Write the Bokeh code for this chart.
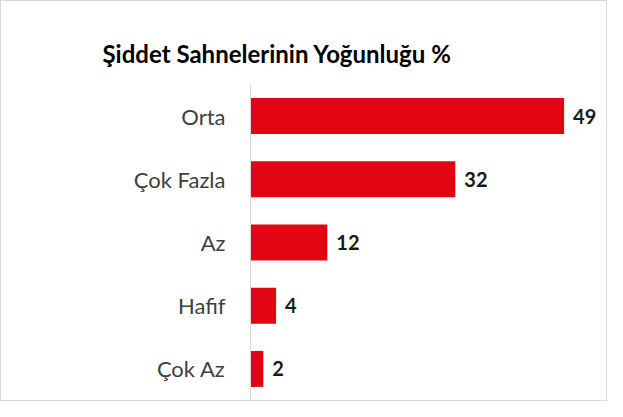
from bokeh.plotting import figure
from bokeh.models import ColumnDataSource, FactorRange, Range1d
from bokeh.core.properties import value
from bokeh.embed import file_html
from bokeh.resources import INLINE

title_text = "Şiddet Sahnelerinin Yoğunluğu %"
categories = ["Orta", "Çok Fazla", "Az", "Hafif", "Çok Az"]
values = [49, 32, 12, 4, 2]
value_labels = [str(v) for v in values]

src = ColumnDataSource(dict(cat=categories, val=values, lab=value_labels))

p = figure(
    width=607, height=401,
    y_range=FactorRange(*reversed(categories)),
    x_range=Range1d(0, 55),
    output_backend="svg", toolbar_location=None,
    min_border_left=249, min_border_right=6,
    min_border_top=83, min_border_bottom=2,
)
p.styles = {"border": "1px solid #d9d9d9"}
p.outline_line_color = None
p.background_fill_color = "white"
p.border_fill_color = "white"

p.title.text = title_text
p.title.text_font = "Lato"
p.title.text_font_style = "bold"
p.title.text_font_size = "24px"
p.title.text_color = "#000000"
p.title.align = "left"
p.title.vertical_align = "top"
p.title.offset = -148
p.title.standoff = 30

p.hbar(y="cat", right="val", left=0, height=0.57, source=src,
       fill_color="#E20613", line_color=None)

p.text(x="val", y="cat", text="lab", source=src, x_offset=9,
       text_baseline="middle", text_align="left",
       text_font=value("Lato"), text_font_style="bold",
       text_font_size="20px", text_color="#1a1a1a")

p.xaxis.visible = False
p.xgrid.grid_line_color = None
p.ygrid.grid_line_color = None
yax = p.yaxis[0]
yax.axis_line_color = "#d9d9d9"
yax.axis_line_width = 1
yax.major_tick_line_color = None
yax.minor_tick_line_color = None
yax.major_tick_out = 0
yax.major_tick_in = 0
yax.major_label_standoff = 25
yax.major_label_text_font = "Lato"
yax.major_label_text_font_size = "22px"
yax.major_label_text_color = "#404040"

open("out.html", "w").write(file_html(p, INLINE))
